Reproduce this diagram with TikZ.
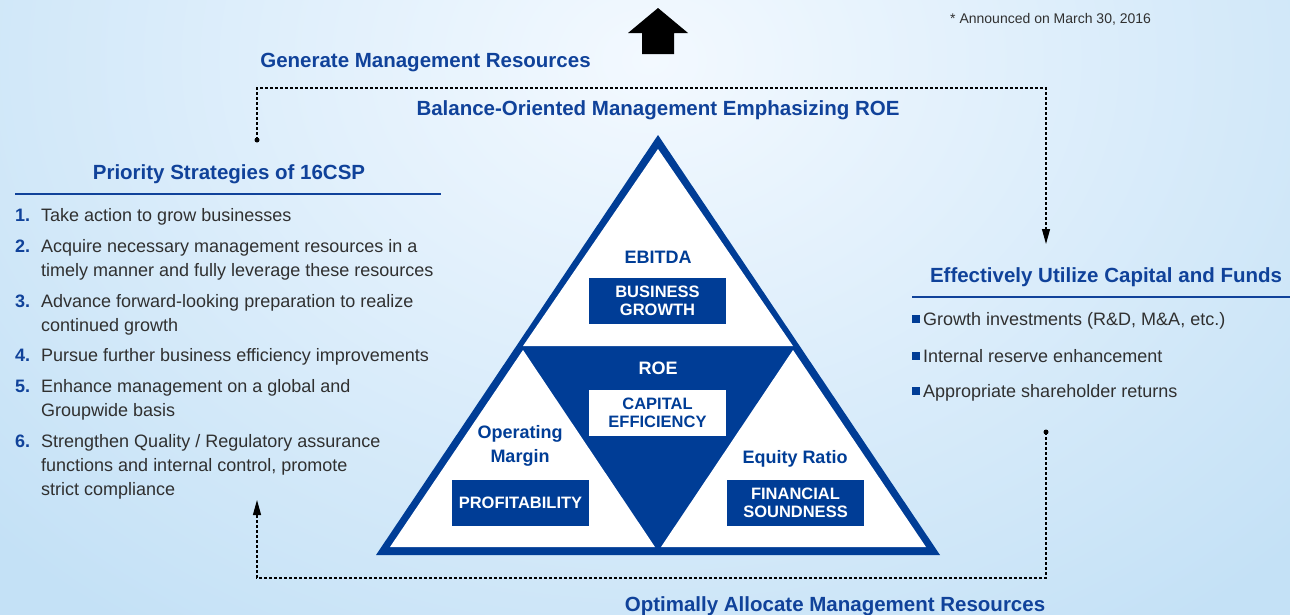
\documentclass[tikz,border=0pt]{standalone}
\usepackage{fontspec}
\setmainfont{Liberation Sans}
\usepackage{tikz}
\usetikzlibrary{arrows.meta}

\definecolor{triblue}{RGB}{0,61,150}
\definecolor{headblue}{RGB}{16,66,154}
\definecolor{txtgray}{RGB}{48,48,48}
\definecolor{bgside}{RGB}{196,225,246}
\definecolor{bgmid}{RGB}{243,249,255}

\tikzset{
  headline/.style={font=\fontsize{20.5}{24}\selectfont\bfseries, text=headblue, inner sep=0, anchor=base},
  listnum/.style={font=\fontsize{18}{24}\selectfont\bfseries, text=headblue, inner sep=0, anchor=base west},
  listtxt/.style={font=\fontsize{18}{24}\selectfont, text=txtgray, inner sep=0, anchor=base west, align=left},
  trilabel/.style={font=\fontsize{18}{24}\selectfont\bfseries, text=triblue, inner sep=0, align=center},
  bluebox/.style={fill=triblue, text=white, minimum width=137pt, minimum height=46pt, inner sep=0,
    align=center, font=\fontsize{16.5}{18}\selectfont\bfseries},
  whitebox/.style={bluebox, fill=white, text=triblue},
  loopline/.style={black, line width=1.1pt, dash pattern=on 3pt off 2pt},
  looptip/.style={-{Triangle[length=15pt,width=8pt]}}
}

\begin{document}
\begin{tikzpicture}[x=1pt,y=-1pt]
\useasboundingbox (0,0) rectangle (1290,614);
\fill[bgside] (-10,-10) rectangle (1300,624);
\begin{scope}
\clip (-10,-10) rectangle (1300,624);
\shade[inner color=bgmid, outer color=bgside] (650,60) ellipse (900 and 700);
\end{scope}

\fill[black] (658,8) -- (688,33) -- (674,33) -- (674,54) -- (642,54) -- (642,33) -- (628,33) -- cycle;
\node[font=\fontsize{14}{16}\selectfont, text=txtgray, inner sep=0, anchor=base west] (note) at (950,23) {* Announced on March 30, 2016};

\node[headline] (genres) at (425.5,67.3) {Generate Management Resources};
\node[headline] (balance) at (658,115.3) {Balance-Oriented Management Emphasizing ROE};
\node[headline] (priority) at (229,179.3) {Priority Strategies of 16CSP};
\node[headline] (effuse) at (1106,282.3) {Effectively Utilize Capital and Funds};
\node[headline] (optalloc) at (835,611.3) {Optimally Allocate Management Resources};

\draw[headblue, line width=1.2pt] (15,194) -- (441,194);
\draw[headblue, line width=1.2pt] (912,297) -- (1290,297);

% last line of each item sits on the given baseline
\node[listnum] (n1) at (15,221) {1.};
\node[listtxt] (s1) at (41,221) {Take action to grow businesses};
\node[listnum] (n2) at (15,252) {2.};
\node[listtxt] (s2) at (41,276) {Acquire necessary management resources in a\\timely manner and fully leverage these resources};
\node[listnum] (n3) at (15,307) {3.};
\node[listtxt] (s3) at (41,331) {Advance forward-looking preparation to realize\\continued growth};
\node[listnum] (n4) at (15,361) {4.};
\node[listtxt] (s4) at (41,361) {Pursue further business efficiency improvements};
\node[listnum] (n5) at (15,392) {5.};
\node[listtxt] (s5) at (41,416) {Enhance management on a global and\\Groupwide basis};
\node[listnum] (n6) at (15,447) {6.};
\node[listtxt] (s6) at (41,495) {Strengthen Quality / Regulatory assurance\\functions and internal control, promote\\strict compliance};

\node[listtxt] (b1) at (912,325) {\textcolor{triblue}{\rule[2pt]{8pt}{8pt}}\hspace{3pt}Growth investments (R\&D, M\&A, etc.)};
\node[listtxt] (b2) at (912,362) {\textcolor{triblue}{\rule[2pt]{8pt}{8pt}}\hspace{3pt}Internal reserve enhancement};
\node[listtxt] (b3) at (912,397) {\textcolor{triblue}{\rule[2pt]{8pt}{8pt}}\hspace{3pt}Appropriate shareholder returns};

\fill[triblue] (658,135) -- (940,555) -- (376,555) -- cycle;
\fill[white] (658,149) -- (793,346) -- (523,346) -- cycle;
\fill[white] (523,350) -- (655,547) -- (390,547) -- cycle;
\fill[white] (793,350) -- (926,547) -- (661,547) -- cycle;

\node[trilabel, anchor=base] (ebitda) at (658,263.4) {EBITDA};
\node[bluebox] (growth) at (657.5,301) {BUSINESS\\GROWTH};
\node[trilabel, anchor=base, text=white] (roe) at (658,374.4) {ROE};
\node[whitebox] (capeff) at (657.5,413) {CAPITAL\\EFFICIENCY};
\node[trilabel] (opmargin) at (520,446) {Operating\\Margin};
\node[bluebox] (profit) at (520.5,503) {PROFITABILITY};
\node[trilabel, anchor=base] (eqratio) at (795,463.4) {Equity Ratio};
\node[bluebox] (soundness) at (795.5,503) {FINANCIAL\\SOUNDNESS};

\coordinate (dotL) at (257,140);
\coordinate (cornerTL) at (257,88);
\coordinate (cornerTR) at (1046,88);
\coordinate (tipR) at (1046,244);
\coordinate (dotR) at (1046,432);
\coordinate (cornerBR) at (1046,578);
\coordinate (cornerBL) at (257,578);
\coordinate (tipL) at (257,500);

\draw[loopline, looptip] (dotL) -- (cornerTL) -- (cornerTR) -- (tipR);
\draw[loopline, looptip] (dotR) -- (cornerBR) -- (cornerBL) -- (tipL);
\fill (dotL) circle (2.5);
\fill (dotR) circle (2.5);
\end{tikzpicture}
\end{document}
